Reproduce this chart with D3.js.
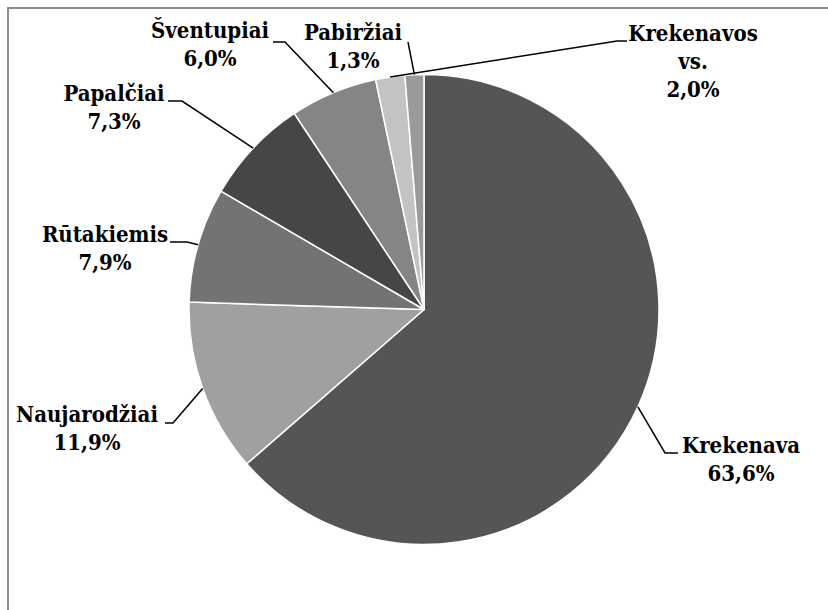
<!DOCTYPE html>
<html>
<head>
<meta charset="utf-8">
<script src="https://cdn.jsdelivr.net/npm/d3@7"></script>
<style>
  body { margin: 0; background: #fff; }
</style>
</head>
<body>
<svg id="chart" width="828" height="610"></svg>
<script>
// share of each place, %
var places = ["Krekenava", "Naujarodžiai", "Rūtakiemis", "Papalčiai", "Šventupiai", "Krekenavos vs.", "Pabiržiai"];
var shares = [63.6, 11.9, 7.9, 7.3, 6.0, 2.0, 1.3];
// how each name is broken over lines
var labelLines = [["Krekenava"], ["Naujarodžiai"], ["Rūtakiemis"], ["Papalčiai"], ["Šventupiai"], ["Krekenavos", "vs."], ["Pabiržiai"]];

var fills = ["#555555", "#a0a0a0", "#737373", "#464646", "#858585", "#c3c3c3", "#9a9a9a"];

// label layout: text centre x, first baseline y, leader elbow, leader end
var labelPos = [
    {x: 741, y: 453, elbow: [665, 453], end: [678, 453]},
    {x: 87,  y: 422, elbow: [173, 423], end: [165, 423]},
    {x: 105, y: 242, elbow: [187, 242], end: [170, 242]},
    {x: 114, y: 101, elbow: [182, 101], end: [168, 101]},
    {x: 210, y: 38,  elbow: [285, 42],  end: [273, 42]},
    {x: 693, y: 41,  elbow: [617, 41],  end: [627, 41]},
    {x: 353, y: 40,  elbow: [408, 42],  end: [408, 42]}
];

var cx = 424, cy = 309.5, radius = 235;
var lineH = 28;
var serif = "'DejaVu Serif Condensed', 'DejaVu Serif', serif";

var svg = d3.select("#chart");

svg.append("rect")
    .attr("x", 8).attr("y", 8)
    .attr("width", 900).attr("height", 700)
    .attr("fill", "none")
    .attr("stroke", "#8c8c8c")
    .attr("stroke-width", 2);

var pie = d3.pie().sort(null).value(function(d) { return d; });
var arcs = pie(shares);

var arc = d3.arc().innerRadius(0).outerRadius(radius);
var edge = d3.arc().innerRadius(radius).outerRadius(radius);

var g = svg.append("g")
    .attr("transform", "translate(" + cx + "," + cy + ")");

g.selectAll("path.slice")
    .data(arcs)
    .enter().append("path")
    .attr("class", "slice")
    .attr("d", arc)
    .attr("fill", function(d, i) { return fills[i]; })
    .attr("stroke", "#fff")
    .attr("stroke-width", 1.5)
    .attr("stroke-linejoin", "round");

// leader lines
svg.selectAll("polyline.leader")
    .data(arcs)
    .enter().append("polyline")
    .attr("class", "leader")
    .attr("fill", "none")
    .attr("stroke", "#000")
    .attr("stroke-width", 1.5)
    .attr("points", function(d, i) {
        var p = edge.centroid(d);
        var lp = labelPos[i];
        return [[cx + p[0], cy + p[1]], lp.elbow, lp.end].map(function(q) { return q.join(","); }).join(" ");
    });

// labels
var fmt = function(v) { return v.toFixed(1).replace(".", ",") + "%"; };

var labels = svg.selectAll("text.label")
    .data(arcs)
    .enter().append("text")
    .attr("class", "label")
    .attr("text-anchor", "middle")
    .style("font-family", serif)
    .style("font-stretch", "condensed")
    .attr("font-weight", "bold")
    .attr("font-size", 22)
    .attr("fill", "#000");

labels.each(function(d, i) {
    var t = d3.select(this);
    var lines = labelLines[i].concat([fmt(shares[i])]);
    lines.forEach(function(s, k) {
        t.append("tspan")
            .attr("x", labelPos[i].x)
            .attr("y", labelPos[i].y + k * lineH)
            .text(s);
    });
});
</script>
</body>
</html>
